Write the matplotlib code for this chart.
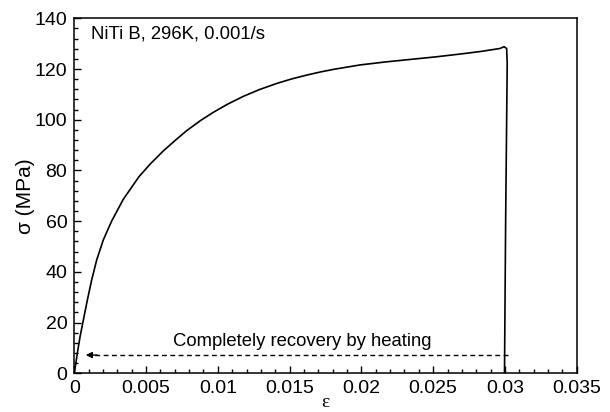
import matplotlib
matplotlib.use("Agg")
import matplotlib.pyplot as plt
from matplotlib.ticker import MultipleLocator

plt.rcParams['font.family'] = ['Liberation Sans', 'DejaVu Sans']

# Loading / unloading curve of NiTi B at 296 K
strain = [0, 0.00021, 0.0004, 0.00063, 0.00091, 0.00121, 0.00156, 0.00202,
          0.0026, 0.00341, 0.0045, 0.0053, 0.0062, 0.007, 0.00783, 0.0088,
          0.00968, 0.0107, 0.01177, 0.0129, 0.0141, 0.01515, 0.01619, 0.0172,
          0.0181, 0.0199, 0.0217, 0.02362, 0.0252, 0.02687, 0.0283, 0.02966,
          0.02994, 0.03012, 0.03016, 0.03005, 0.02997]
stress = [0, 7.9, 14.4, 21, 28.9, 36.8, 44.7, 52.6, 60.0, 68.6, 77.5, 82.6,
          87.7, 91.7, 95.7, 99.7, 102.9, 106.2, 109.2, 111.9, 114.3, 116.1,
          117.6, 118.9, 119.9, 121.6, 122.8, 123.9, 124.8, 125.9, 126.9,
          128.1, 128.8, 128.1, 122.2, 60, 0]

# Strain recovered on heating (arrow from end strain back to origin)
recovery_strain = [0.0302, 0.0008]
recovery_stress = 7.2

x_ticks = [0, 0.005, 0.01, 0.015, 0.02, 0.025, 0.03, 0.035]
x_tick_labels = ['0', '0.005', '0.01', '0.015', '0.02', '0.025', '0.03', '0.035']
y_ticks = [0, 20, 40, 60, 80, 100, 120, 140]

fig = plt.figure(figsize=(6.10, 4.12), dpi=100)
ax = fig.add_axes([0.1218, 0.0939, 0.8236, 0.8617])

ax.plot(strain, stress, color='black', lw=1.2, solid_joinstyle='round')

# dashed recovery line with a filled arrow head
ax.plot([recovery_strain[0], recovery_strain[1] + 0.0006],
        [recovery_stress, recovery_stress], color='black', lw=1.0,
        dashes=(3.5, 2.5))
ax.annotate('', xy=(recovery_strain[1], recovery_stress),
            xytext=(recovery_strain[1] + 0.0008, recovery_stress),
            arrowprops=dict(arrowstyle='-|>', color='black', lw=1.0,
                            mutation_scale=9, shrinkA=0, shrinkB=0))

ax.text(0.01585, 9.3, 'Completely recovery by heating', fontsize=13.3,
        ha='center', va='bottom')
ax.text(0.00115, 134.0, 'NiTi B, 296K, 0.001/s', fontsize=13.3,
        ha='left', va='center')

ax.set_xlim(0, 0.035)
ax.set_ylim(0, 140)
ax.set_xticks(x_ticks)
ax.set_xticklabels(x_tick_labels)
ax.set_yticks(y_ticks)
ax.xaxis.set_minor_locator(MultipleLocator(0.001))
ax.yaxis.set_minor_locator(MultipleLocator(4))

ax.tick_params(which='both', direction='in', top=False, right=False,
               labelsize=14, width=1.0, pad=5)
ax.tick_params(which='major', length=5)
ax.tick_params(which='minor', length=3)
for s in ax.spines.values():
    s.set_linewidth(1.1)

ax.set_xlabel('ε', fontsize=14, family=['Liberation Serif', 'DejaVu Serif'],
              labelpad=-2.5)
ax.set_ylabel('σ (MPa)', fontsize=15, labelpad=0)

fig.savefig('out.png', dpi=100)
